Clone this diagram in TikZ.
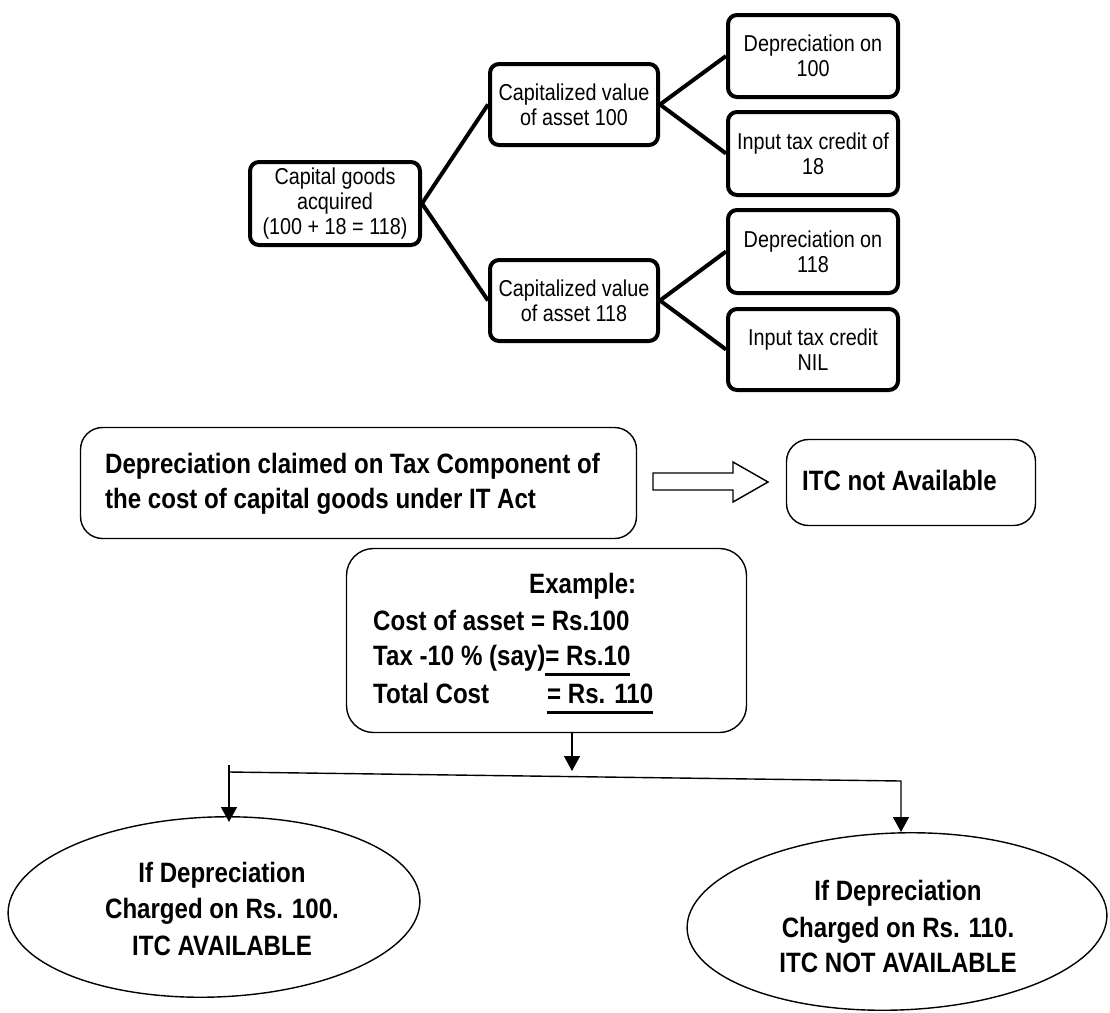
\documentclass[tikz,border=0pt]{standalone}
\usepackage{fontspec}
\setmainfont{Liberation Sans}[FakeStretch=0.86]
\usetikzlibrary{arrows.meta,shapes.geometric}
\newsavebox\myulbox
\newcommand\ulbox[1]{\sbox\myulbox{#1}\rlap{\rule[-10.5pt]{\wd\myulbox}{3pt}}\usebox\myulbox}
\begin{document}
\begin{tikzpicture}[x=1pt,y=-1pt,
  tbox/.style={draw, line width=4pt, rounded corners=9pt, align=center, inner sep=0pt,
    font=\fontsize{23}{25}\selectfont, minimum width=170pt, minimum height=82pt},
  tlink/.style={line width=4pt},
  rbox/.style={draw, line width=1.4pt, rounded corners=22pt, inner sep=0pt},
  btext/.style={font=\fontsize{28}{36}\selectfont\bfseries, inner sep=0pt, anchor=base west},
  ctext/.style={font=\fontsize{28}{36}\selectfont\bfseries, inner sep=0pt, anchor=base},
  thinline/.style={line width=1.4pt},
  thinarrow/.style={line width=1.4pt, -{Triangle[length=15pt,width=16pt]}},
  ell/.style={draw, ellipse, line width=1.4pt, inner sep=0pt, rotate=2}]
\useasboundingbox (0,0) rectangle (1110,1012);

% top tree
\node[tbox, minimum height=83pt] (root) at (335,203.5) {Capital goods\\acquired\\(100 + 18 = 118)};
\node[tbox, minimum width=168pt, minimum height=81pt] (c100) at (574,104.5) {Capitalized value\\of asset 100};
\node[tbox, minimum width=168pt, minimum height=81pt] (c118) at (574,300.5) {Capitalized value\\of asset 118};
\node[tbox] (d100) at (813,56) {Depreciation on\\100};
\node[tbox, minimum height=83pt] (i18) at (813,153.5) {Input tax credit of\\18};
\node[tbox, minimum height=83pt] (d118) at (813,251.5) {Depreciation on\\118};
\node[tbox, minimum height=81pt] (nil) at (813,349.5) {Input tax credit\\NIL};
\draw[tlink] (root.east) -- (c100.west);
\draw[tlink] (root.east) -- (c118.west);
\draw[tlink] (c100.east) -- (d100.west);
\draw[tlink] (c100.east) -- (i18.west);
\draw[tlink] (c118.east) -- (d118.west);
\draw[tlink] (c118.east) -- (nil.west);

% middle
\node[rbox, minimum width=556pt, minimum height=111pt] (dep) at (358.5,483) {};
\node[btext] (dept1) at (105,473) {Depreciation claimed on Tax Component of};
\node[btext] (dept2) at (105,508) {the cost of capital goods under IT Act};
\node[rbox, minimum width=249pt, minimum height=86pt] (itc) at (911,482.5) {};
\node[btext] (itct) at (802,490) {ITC not Available};
\draw[thinline, line join=miter] (653,473) -- (733,473) -- (733,462) -- (768,482)
  -- (733,502) -- (733,490) -- (653,490) -- cycle;

% example
\node[rbox, rounded corners=27pt, minimum width=400pt, minimum height=184pt] (ex) at (546.5,640.5) {};
\node[btext] (ex1) at (529,593) {Example:};
\node[btext] (ex2) at (373,630) {Cost of asset = Rs.100};
\node[btext] (ex3) at (373,665) {Tax -10 \% (say)\ulbox{= Rs.10}};
\node[btext] (ex4) at (373,703) {Total Cost};
\node[btext] (ex5) at (547,703) {\ulbox{= Rs. 110}};

% bottom connectors
\coordinate (dx) at (572,771);
\coordinate (lt) at (229,765);
\coordinate (lh) at (229,822);
\coordinate (jl) at (229,772);
\coordinate (jr) at (901,781);
\coordinate (rh) at (901,832);
\draw[thinarrow] (ex.south -| dx) -- (dx);
\draw[thinarrow] (lt) -- (lh);
\draw[thinarrow] (jl) -- (jr) -- (rh);

% ellipses
\node[ell, minimum width=412pt, minimum height=180pt] (le) at (214,907) {};
\node[ell, minimum width=420pt, minimum height=177pt] (re) at (897,921.5) {};
\node[ctext] (le1) at (222,882) {If Depreciation};
\node[ctext] (le2) at (222,918) {Charged on Rs. 100.};
\node[ctext] (le3) at (222,955) {ITC AVAILABLE};
\node[ctext] (re1) at (898,900) {If Depreciation};
\node[ctext] (re2) at (898,937) {Charged on Rs. 110.};
\node[ctext] (re3) at (898,972) {ITC NOT AVAILABLE};
\end{tikzpicture}
\end{document}
